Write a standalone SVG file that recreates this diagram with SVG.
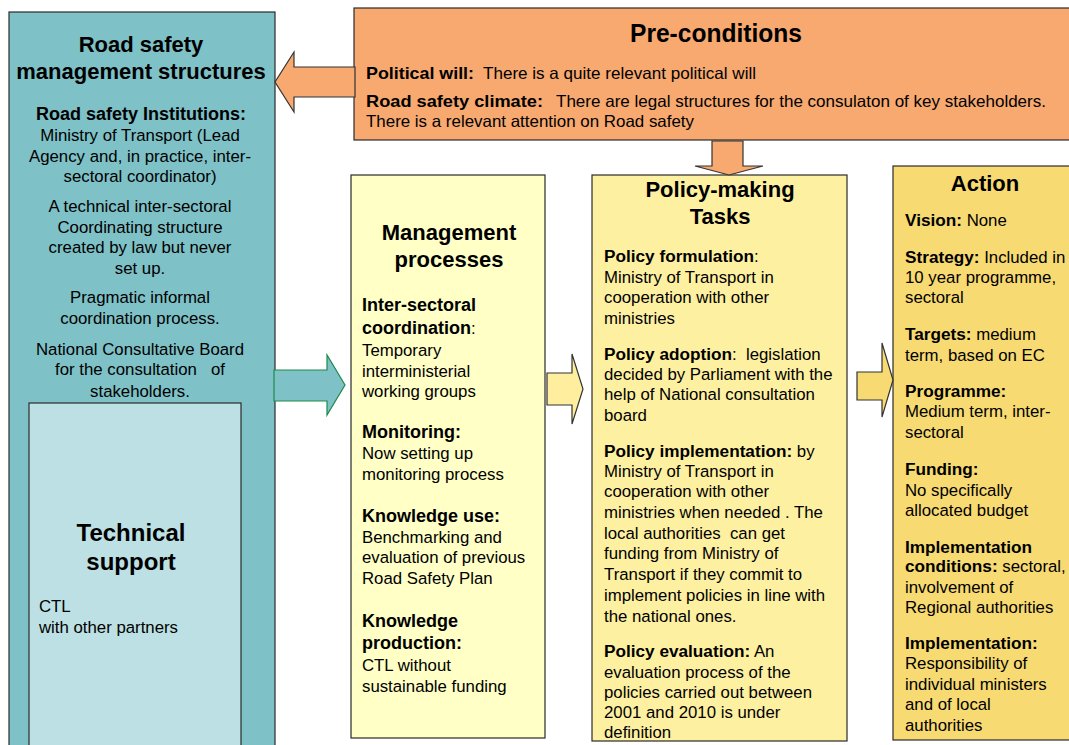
<svg xmlns="http://www.w3.org/2000/svg" width="1069" height="745" viewBox="0 0 1069 745">
<style>
text{font-family:"Liberation Sans",Arial,sans-serif;fill:#000}
.t{font-size:22px;font-weight:bold}
.h{font-size:18px;font-weight:bold}
.r{font-size:16.8px}
.b{font-weight:bold}
.c{text-anchor:middle}
.box{stroke:#2b2b2b;stroke-width:1.2}
.arr{stroke:#333;stroke-width:1.2;stroke-linejoin:miter}
</style>
<rect width="1069" height="745" fill="#fff"/>

<g id="road-safety-management">
<rect class="box" x="9" y="12" width="266" height="745" fill="#7EC1C7"/>
<text class="t c" x="141" y="52">Road safety</text>
<text class="t c" x="141" y="79">management structures</text>
<text class="h c" x="141" y="120">Road safety Institutions:</text>
<text class="r c" x="140" y="141">Ministry of Transport (Lead</text>
<text class="r c" x="140" y="162">Agency and, in practice, inter-</text>
<text class="r c" x="140" y="182">sectoral coordinator)</text>
<text class="r c" x="140" y="212">A technical inter-sectoral</text>
<text class="r c" x="140" y="233">Coordinating structure</text>
<text class="r c" x="140" y="253">created by law but never</text>
<text class="r c" x="140" y="274">set up.</text>
<text class="r c" x="140" y="303">Pragmatic informal</text>
<text class="r c" x="140" y="324">coordination process.</text>
<text class="r c" x="140" y="355">National Consultative Board</text>
<text class="r c" x="140" y="375" xml:space="preserve">for the consultation   of</text>
<text class="r c" x="140" y="397">stakeholders.</text>
</g>

<g id="technical-support">
<rect class="box" x="29" y="403" width="212" height="360" fill="#BCE0E3"/>
<text class="c" x="131" y="541" style="font-size:24px;font-weight:bold">Technical</text>
<text class="c" x="131" y="570" style="font-size:24px;font-weight:bold">support</text>
<text class="r" x="39" y="612">CTL</text>
<text class="r" x="39" y="633">with other partners</text>
</g>

<g id="pre-conditions">
<rect class="box" x="354" y="8" width="730" height="132" fill="#F7A970"/>
<text class="c" x="716" y="42" style="font-size:26px;font-weight:bold" textLength="172" lengthAdjust="spacingAndGlyphs">Pre-conditions</text>
<text x="366" y="79" style="font-size:16.5px"><tspan class="b" textLength="108" lengthAdjust="spacingAndGlyphs">Political will:</tspan><tspan x="483" textLength="273" lengthAdjust="spacingAndGlyphs">There is a quite relevant political will</tspan></text>
<text x="366" y="107" style="font-size:16.5px"><tspan class="b" textLength="177" lengthAdjust="spacingAndGlyphs">Road safety climate:</tspan><tspan x="556" textLength="490" lengthAdjust="spacingAndGlyphs">There are legal structures for the consulaton of key stakeholders.</tspan></text>
<text x="366" y="127" style="font-size:16.5px" textLength="328" lengthAdjust="spacingAndGlyphs">There is a relevant attention on Road safety</text>
</g>

<g id="management-processes">
<rect class="box" x="351" y="175" width="194" height="563" fill="#FFFFC6"/>
<text class="t c" x="449" y="240">Management</text>
<text class="t c" x="449" y="267">processes</text>
<text class="h" x="362" y="311">Inter-sectoral</text>
<text class="r" x="362" y="334"><tspan class="b" style="font-size:18px">coordination</tspan>:</text>
<text class="r" x="362" y="356">Temporary</text>
<text class="r" x="362" y="377">interministerial</text>
<text class="r" x="362" y="397">working groups</text>
<text class="h" x="362" y="438">Monitoring:</text>
<text class="r" x="362" y="459">Now setting up</text>
<text class="r" x="362" y="480">monitoring process</text>
<text class="h" x="362" y="522">Knowledge use:</text>
<text class="r" x="362" y="543">Benchmarking and</text>
<text class="r" x="362" y="563">evaluation of previous</text>
<text class="r" x="362" y="584">Road Safety Plan</text>
<text class="h" x="362" y="627">Knowledge</text>
<text class="h" x="362" y="649">production:</text>
<text class="r" x="362" y="671">CTL without</text>
<text class="r" x="362" y="692">sustainable funding</text>
</g>

<g id="policy-making-tasks">
<rect class="box" x="592" y="175" width="255" height="566" fill="#FEF0A1"/>
<text class="t c" x="720" y="197">Policy-making</text>
<text class="t c" x="720" y="224">Tasks</text>
<text class="r" x="604" y="262"><tspan class="b" style="font-size:17.2px">Policy formulation</tspan>:</text>
<text class="r" x="604" y="283">Ministry of Transport in</text>
<text class="r" x="604" y="303">cooperation with other</text>
<text class="r" x="604" y="324">ministries</text>
<text class="r" x="604" y="360" xml:space="preserve"><tspan class="b" style="font-size:17.2px">Policy adoption</tspan>:  legislation</text>
<text class="r" x="604" y="380">decided by Parliament with the</text>
<text class="r" x="604" y="400">help of National consultation</text>
<text class="r" x="604" y="421">board</text>
<text class="r" x="604" y="457"><tspan class="b" style="font-size:17.2px">Policy implementation:</tspan> by</text>
<text class="r" x="604" y="477">Ministry of Transport in</text>
<text class="r" x="604" y="497">cooperation with other</text>
<text class="r" x="604" y="518">ministries when needed . The</text>
<text class="r" x="604" y="539" xml:space="preserve">local authorities  can get</text>
<text class="r" x="604" y="559">funding from Ministry of</text>
<text class="r" x="604" y="580">Transport if they commit to</text>
<text class="r" x="604" y="601">implement policies in line with</text>
<text class="r" x="604" y="622">the national ones.</text>
<text class="r" x="604" y="657"><tspan class="b" style="font-size:17.2px">Policy evaluation:</tspan> An</text>
<text class="r" x="604" y="678">evaluation process of the</text>
<text class="r" x="604" y="698">policies carried out between</text>
<text class="r" x="604" y="718">2001 and 2010 is under</text>
<text class="r" x="604" y="738">definition</text>
</g>

<g id="action">
<rect class="box" x="893" y="166" width="190" height="574" fill="#F7DA72"/>
<text class="t c" x="985" y="191">Action</text>
<text class="r" x="905" y="226"><tspan class="b" style="font-size:17.2px">Vision:</tspan> None</text>
<text class="r" x="905" y="263"><tspan class="b" style="font-size:17.2px">Strategy:</tspan> Included in</text>
<text class="r" x="905" y="283">10 year programme,</text>
<text class="r" x="905" y="303">sectoral</text>
<text class="r" x="905" y="340"><tspan class="b" style="font-size:17.2px">Targets:</tspan> medium</text>
<text class="r" x="905" y="361">term, based on EC</text>
<text class="h" x="905" y="397" style="font-size:17.2px">Programme:</text>
<text class="r" x="905" y="417">Medium term, inter-</text>
<text class="r" x="905" y="438">sectoral</text>
<text class="h" x="905" y="475" style="font-size:17.2px">Funding:</text>
<text class="r" x="905" y="496">No specifically</text>
<text class="r" x="905" y="516">allocated budget</text>
<text class="h" x="905" y="553" style="font-size:17.2px">Implementation</text>
<text class="r" x="905" y="572"><tspan class="b" style="font-size:17.2px">conditions:</tspan> sectoral,</text>
<text class="r" x="905" y="593">involvement of</text>
<text class="r" x="905" y="613">Regional authorities</text>
<text class="h" x="905" y="649" style="font-size:17.2px">Implementation:</text>
<text class="r" x="905" y="669">Responsibility of</text>
<text class="r" x="905" y="690">individual ministers</text>
<text class="r" x="905" y="710">and of local</text>
<text class="r" x="905" y="731">authorities</text>
</g>

<g id="connectors">
<polygon class="arr" points="355,67 294,67 294,52 275,82 294,112 294,97 355,97" fill="#F7A970"/>
<polygon class="arr" points="712,141 743,141 743,166 763,166 729,175 695,166 712,166" fill="#F7A970"/>
<polygon points="274,370 327,370 327,355 345,385 327,415 327,401 274,401" fill="#7EC1C7" stroke="#1E8A4A" stroke-width="1.2"/>
<polygon class="arr" points="547,373 572,373 572,354 583,389 572,424 572,405 547,405" fill="#FEEE9E"/>
<polygon class="arr" points="857,372 882,372 882,343 893,380 882,417 882,400 857,400" fill="#F7DA72"/>
</g>
</svg>
